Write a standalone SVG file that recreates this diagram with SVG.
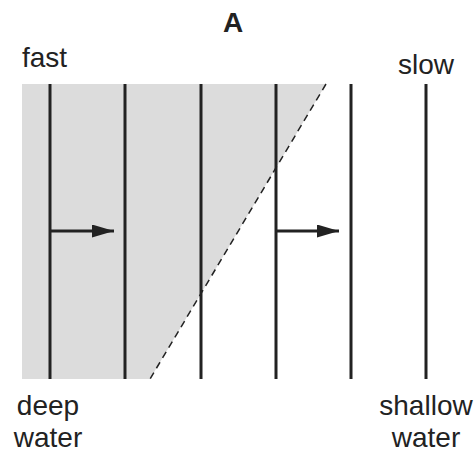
<svg xmlns="http://www.w3.org/2000/svg" width="476" height="458" viewBox="0 0 476 458">
<style>
text{font-family:"Liberation Sans",Arial,sans-serif;fill:#222;font-size:28px}
.w{stroke:#222;stroke-width:3;fill:none}
</style>
<defs>
<marker id="ah" markerWidth="22" markerHeight="13" refX="22" refY="6.5" orient="auto" markerUnits="userSpaceOnUse" viewBox="0 0 22 13">
<path d="M0,0 L22,6.5 L0,13 Z" fill="#222"/>
</marker>
</defs>
<rect width="476" height="458" fill="#fff"/>
<polygon points="22,84 326,84 150,379 22,379" fill="#dcdcdc"/>
<line x1="326" y1="84" x2="150" y2="379" stroke="#222" stroke-width="1.5" stroke-dasharray="7,5"/>
<g id="wavefronts">
<line class="w" x1="50" y1="84" x2="50" y2="379"/>
<line class="w" x1="125" y1="84" x2="125" y2="379"/>
<line class="w" x1="201" y1="84" x2="201" y2="379"/>
<line class="w" x1="276" y1="84" x2="276" y2="379"/>
<line class="w" x1="351" y1="84" x2="351" y2="379"/>
<line class="w" x1="426" y1="84" x2="426" y2="379"/>
</g>
<g id="connectors">
<line x1="50" y1="231" x2="114" y2="231" stroke="#222" stroke-width="3" marker-end="url(#ah)"/>
<line x1="276" y1="231" x2="339" y2="231" stroke="#222" stroke-width="3" marker-end="url(#ah)"/>
</g>
<text x="233" y="32" text-anchor="middle" font-weight="bold">A</text>
<text x="22" y="67">fast</text>
<text x="426" y="74" text-anchor="middle">slow</text>
<text x="48" y="415" text-anchor="middle">deep</text>
<text x="48" y="447" text-anchor="middle">water</text>
<text x="426" y="415" text-anchor="middle">shallow</text>
<text x="426" y="447" text-anchor="middle">water</text>
</svg>
